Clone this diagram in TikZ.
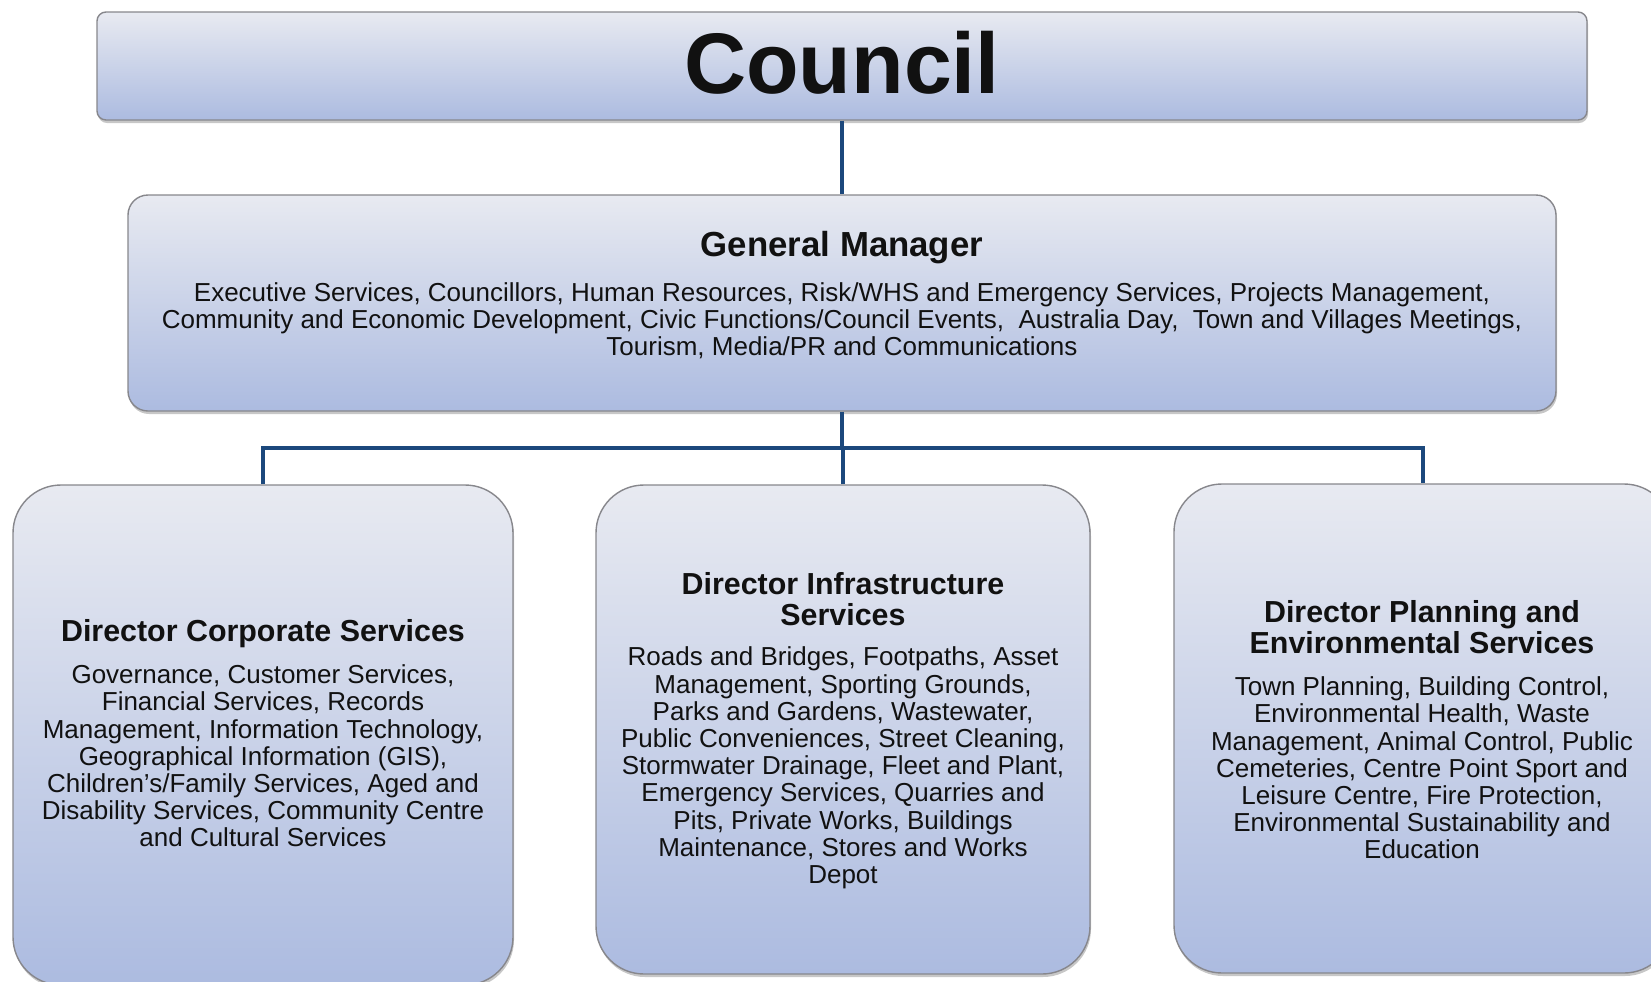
\documentclass[tikz,border=0pt]{standalone}
\usepackage{fontspec}
\setmainfont{Liberation Sans}
\usetikzlibrary{shadows}

\definecolor{boxtop}{RGB}{232,234,241}
\definecolor{boxmid}{RGB}{216,220,238}
\definecolor{boxbot}{RGB}{172,187,224}
\definecolor{boxline}{RGB}{135,135,140}
\definecolor{linkblue}{RGB}{28,72,124}
\definecolor{ink}{RGB}{17,17,17}

\begin{document}
\begin{tikzpicture}[x=0.5pt,y=-0.5pt,
  box/.style={draw=boxline, line width=0.7pt, top color=boxtop, middle color=boxmid,
    bottom color=boxbot, inner sep=0pt,
    drop shadow={shadow xshift=0.5pt, shadow yshift=-1.5pt, fill=black, opacity=0.22}},
  link/.style={draw=linkblue, line width=2pt},
  title/.style={font=\fontsize{43}{50}\selectfont\bfseries, text=ink, inner sep=0pt},
  head/.style={font=\fontsize{15.2}{15.8}\selectfont\bfseries, text=ink, align=center, inner sep=0pt},
  gmhead/.style={font=\fontsize{17.4}{20}\selectfont\bfseries, text=ink, align=center, inner sep=0pt},
  body/.style={font=\fontsize{13}{13.6}\selectfont, text=ink, align=center, inner sep=0pt}]

\useasboundingbox (0,0) rectangle (1651,981);

% boxes
\node[box, rounded corners=4.5pt, minimum width=745pt, minimum height=54pt] (council) at (842,66) {};
\node[box, rounded corners=10pt, minimum width=714pt, minimum height=108pt] (gm) at (842,303) {};
\node[box, rounded corners=24pt, minimum width=250pt, minimum height=250pt] (dcorp) at (263,735) {};
\node[box, rounded corners=24pt, minimum width=247pt, minimum height=244.5pt] (dinf) at (843,729.5) {};
\node[box, rounded corners=24pt, minimum width=249pt, minimum height=244.5pt] (dplan) at (1423,728.5) {};

% connectors
\coordinate (bus) at (842,448);
\draw[link] (council.south) -- (gm.north);
\draw[link] (gm.south) -- (gm.south |- bus);
\draw[link] (dcorp.north) -- (dcorp.north |- bus) -- (dplan.north |- bus) -- (dplan.north);
\draw[link] (dinf.north) -- (dinf.north |- bus);

% texts
\node[title] (counciltext) at (842,63) {Council};

\node[gmhead] (gmhead) at (842,248) {General Manager};
\node[body] (gmbody) at (842,321) {Executive Services, Councillors, Human Resources, Risk/WHS and Emergency Services, Projects Management,\\
Community and Economic Development, Civic Functions/Council Events, ~Australia Day, ~Town and Villages Meetings,\\
Tourism, Media/PR and Communications};

\node[head] (dcorphead) at (263,634) {Director Corporate Services};
\node[body] (dcorpbody) at (263,756) {Governance, Customer Services,\\
Financial Services, Records\\
Management, Information Technology,\\
Geographical Information (GIS),\\
Children’s/Family Services, Aged and\\
Disability Services, Community Centre\\
and Cultural Services};

\node[head] (dinfhead) at (843,599) {Director Infrastructure\\Services};
\node[body] (dinfbody) at (843,768) {Roads and Bridges, Footpaths, Asset\\
Management, Sporting Grounds,\\
Parks and Gardens, Wastewater,\\
Public Conveniences, Street Cleaning,\\
Stormwater Drainage, Fleet and Plant,\\
Emergency Services, Quarries and\\
Pits, Private Works, Buildings\\
Maintenance, Stores and Works\\
Depot};

\node[head] (dplanhead) at (1422,627) {Director Planning and\\Environmental Services};
\node[body] (dplanbody) at (1422,768) {Town Planning, Building Control,\\
Environmental Health, Waste\\
Management, Animal Control, Public\\
Cemeteries, Centre Point Sport and\\
Leisure Centre, Fire Protection,\\
Environmental Sustainability and\\
Education};
\end{tikzpicture}
\end{document}
